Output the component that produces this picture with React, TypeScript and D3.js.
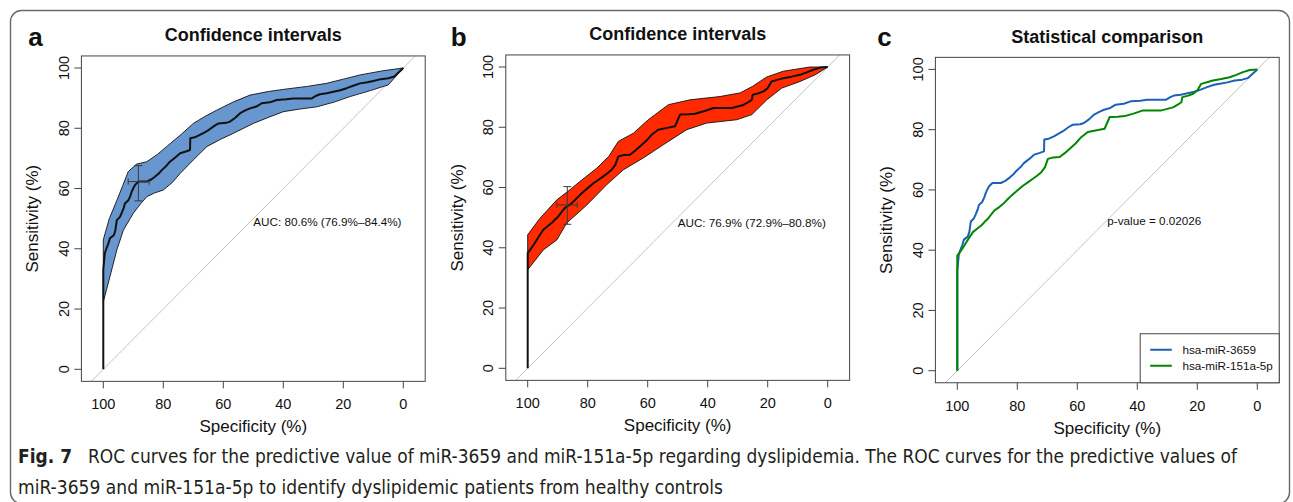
import React from 'react'
import * as d3 from 'd3'

// [specificity, sensitivity] in %
type Pt = [number, number]

const tickValues = [0, 20, 40, 60, 80, 100]

const roc3659: Pt[] = [
  [100, 0], [100, 33], [99.5, 38.5], [99, 40], [98.3, 41.8], [97.8, 43.5], [96.5, 44.5], [96, 46],
  [95.5, 49.5], [94.5, 50.5], [93.9, 51.8], [93.2, 53.5], [92.8, 55], [91.7, 56], [91, 57.5],
  [90.5, 59], [89.8, 60.5], [89.4, 61.2], [88.3, 62.3], [85.5, 62.3], [84, 63], [82.8, 63.9],
  [81.5, 65], [80.5, 66.1], [79, 67.5], [77.8, 68.9], [76, 70.3], [74.4, 71.7], [72.5, 72.3],
  [71.1, 72.8], [71, 76.7], [69.5, 77], [67.8, 77.8], [66.5, 78.5], [64.9, 79.4], [63, 80.8],
  [61.6, 81.6], [59, 81.8], [57.8, 82.2], [56, 83.5], [54.4, 85], [52.5, 86], [51.1, 86.6],
  [49, 87.2], [47.2, 88.3], [44.5, 88.6], [42.2, 89.4], [39, 89.6], [36.7, 89.9], [30.5, 89.9],
  [29, 90.8], [27.8, 91.3], [25.5, 91.6], [23.3, 92.1], [21, 92.6], [18.9, 93.3], [16.5, 94.2],
  [14.4, 94.9], [12, 95.3], [10, 95.7], [7.5, 96.3], [5, 96.6], [3, 97.2], [0, 100]
]
const ci3659Upper: Pt[] = [
  [100, 43], [98, 50], [95.5, 56], [93.5, 61], [91.7, 65.6], [88.9, 68.1], [85.5, 68.9], [82, 71.3],
  [78.9, 73.9], [74, 78], [70, 81.6], [66, 84], [62.2, 86], [56.5, 88.8], [51.1, 91], [45, 92.2],
  [40, 92.9], [32, 93.9], [25.6, 94.9], [20, 96.3], [14.4, 97.7], [6.7, 99.1], [0, 100]
]
const ci3659Lower: Pt[] = [
  [100, 22.4], [97.8, 30.7], [95.5, 39.6], [93.3, 46.2], [90, 51.8], [87.5, 55], [85.5, 57.3],
  [83, 58.5], [80, 59.5], [77, 62], [74.4, 65], [70, 69.5], [65.5, 73.9], [61, 76.3], [56.7, 78.3],
  [50, 81.6], [45, 83.6], [40, 85.5], [35, 86.3], [28.9, 87.1], [23, 88.7], [17.8, 90.5], [11, 92.5],
  [5, 94.4], [0, 100]
]

const roc151a: Pt[] = [
  [100, 0], [100, 38.2], [99.2, 39.3], [98, 41], [97, 42.6], [95.8, 44.5], [94.8, 46], [93.3, 47.2],
  [92, 48.2], [90.8, 49.5], [89.8, 50.4], [88.6, 52], [87.6, 53.2], [86, 54.3], [84.8, 55.3],
  [83.3, 56.8], [82, 58.1], [80, 59.8], [78.1, 61.4], [76.5, 62.5], [74.8, 63.7], [73.3, 64.8],
  [72, 65.9], [70.8, 67.5], [69.8, 70.3], [68, 70.8], [65.9, 70.9], [64.2, 72.2], [62.6, 73.6],
  [60.5, 75.5], [58.7, 77.5], [56.5, 79.2], [53.5, 79.8], [50.9, 80.3], [49.2, 84.2], [46.5, 84.3],
  [44.2, 84.5], [41, 85.4], [38.1, 86.4], [32, 86.4], [30, 86.9], [28.1, 87.4], [26.5, 88.3],
  [25.3, 89.1], [25, 90.8], [23, 91.3], [21.4, 91.9], [20, 93], [18.7, 95.2], [16.5, 95.8],
  [14.8, 96.3], [12, 96.8], [9.2, 97.4], [7, 98.2], [4.8, 99.1], [2.5, 99.8], [0, 100]
]
const ci151aUpper: Pt[] = [
  [100, 44.3], [95.9, 49.8], [90.3, 55.9], [86, 59.2], [82.6, 62], [77, 66.4], [73, 70.3],
  [69.8, 75.3], [64.8, 78], [59.8, 82.5], [53.1, 87.5], [45.9, 89.1], [35.9, 90.2], [29.2, 91.4],
  [25, 93.6], [20.3, 96.7], [14.8, 98.6], [5.9, 100], [0, 100]
]
const ci151aLower: Pt[] = [
  [100, 32.7], [94.8, 39.3], [90.3, 42.6], [87, 48.2], [80.3, 54.2], [73.7, 60.9], [68.1, 65.9],
  [61.5, 69.8], [54.8, 74.2], [47, 79.2], [40.3, 81.4], [30.3, 82.5], [25.3, 84.2], [20.3, 89.1],
  [15.3, 93], [9.2, 95.2], [4, 97.5], [0, 100]
]

// best threshold with its CI: [spec, sens, specLo, specHi, sensLo, sensHi]
const cross3659 = [88.3, 62.3, 84.7, 91.7, 55.9, 67.6]
const cross151a = [86.8, 54.2, 83.5, 90.3, 47.8, 60.3]

const aucLabels = ['AUC: 80.6% (76.9%\u201384.4%)', 'AUC: 76.9% (72.9%\u201380.8%)']
const pValueLabel = 'p-value = 0.02026'
const legendLabels = ['hsa-miR-3659', 'hsa-miR-151a-5p']

const BLUE = '#1c61b6'
const GREEN = '#008600'
const BLUE_BAND = '#6896ce'
const RED_BAND = '#ff2a00'
const FONT = '"Liberation Sans", Arial, Helvetica, sans-serif'

type PanelProps = {
  x100: number
  y0: number
  letter: string
  letterX: number
  title: string
  band?: { upper: Pt[]; lower: Pt[]; fill: string }
  curves: { pts: Pt[]; color: string }[]
  cross?: number[]
  label: string
  labelSens: number
  legend?: boolean
}

function Panel(p: PanelProps) {
  const x = d3.scaleLinear().domain([100, 0]).range([p.x100, p.x100 + 300])
  const y = d3.scaleLinear().domain([0, 100]).range([p.y0, p.y0 - 301.3])
  const left = x(107.3), right = x(-7.3), top = y(104), bottom = y(-4)
  const line = d3.line<Pt>().x(d => x(d[0])).y(d => y(d[1]))
  const cx = (left + right) / 2
  const cy = (top + bottom) / 2

  let bandPath = ''
  if (p.band) {
    bandPath = line([...p.band.upper, ...p.band.lower.slice().reverse()]) + 'Z'
  }

  const legW = 139, legH = 49
  const legL = right - legW, legT = bottom - legH

  return (
    <g fontFamily={FONT}>
      <text x={p.letterX} y={46} fontSize={26} fontWeight="bold" fill="#111">{p.letter}</text>
      <text x={cx} y={top - 14.5} fontSize={18} fontWeight="bold" textAnchor="middle" fill="#111">{p.title}</text>

      <line x1={x(104)} y1={y(-4)} x2={x(-4)} y2={y(104)} stroke="#c4c4c4" strokeWidth={1} />

      {p.band && <path d={bandPath} fill={p.band.fill} stroke="#111" strokeWidth={0.9} />}

      {p.curves.map((c, i) => (
        <path key={i} d={line(c.pts) || ''} fill="none" stroke={c.color} strokeWidth={2} strokeLinejoin="round" />
      ))}

      {p.cross && (
        <g stroke="#3a3a3a" strokeWidth={1}>
          <line x1={x(p.cross[0])} x2={x(p.cross[0])} y1={y(p.cross[4])} y2={y(p.cross[5])} />
          <line x1={x(p.cross[0]) - 4} x2={x(p.cross[0]) + 4} y1={y(p.cross[4])} y2={y(p.cross[4])} />
          <line x1={x(p.cross[0]) - 4} x2={x(p.cross[0]) + 4} y1={y(p.cross[5])} y2={y(p.cross[5])} />
          <line x1={x(p.cross[2])} x2={x(p.cross[3])} y1={y(p.cross[1])} y2={y(p.cross[1])} />
          <line x1={x(p.cross[2])} x2={x(p.cross[2])} y1={y(p.cross[1]) - 3} y2={y(p.cross[1]) + 3} />
          <line x1={x(p.cross[3])} x2={x(p.cross[3])} y1={y(p.cross[1]) - 3} y2={y(p.cross[1]) + 3} />
        </g>
      )}

      <text x={x(50)} y={y(p.labelSens)} fontSize={11.7} fill="#111">{p.label}</text>

      <rect x={left} y={top} width={right - left} height={bottom - top} fill="none" stroke="#444" strokeWidth={1} />

      {tickValues.map(v => (
        <g key={'x' + v}>
          <line x1={x(v)} x2={x(v)} y1={bottom} y2={bottom + 7} stroke="#444" />
          <text x={x(v)} y={bottom + 28} fontSize={14.5} textAnchor="middle" fill="#111">{v}</text>
        </g>
      ))}
      {tickValues.map(v => (
        <g key={'y' + v}>
          <line x1={left} x2={left - 7} y1={y(v)} y2={y(v)} stroke="#444" />
          <text transform={`translate(${left - 12.7},${y(v)}) rotate(-90)`} fontSize={14.5} textAnchor="middle" fill="#111">{v}</text>
        </g>
      ))}
      <text x={cx} y={bottom + 51} fontSize={17} textAnchor="middle" fill="#111">Specificity (%)</text>
      <text transform={`translate(${left - 43},${(y(0) + y(100)) / 2}) rotate(-90)`} fontSize={17} textAnchor="middle" fill="#111">Sensitivity (%)</text>

      {p.legend && (
        <g>
          <rect x={legL} y={legT} width={legW} height={legH} fill="white" stroke="#444" strokeWidth={1} />
          {legendLabels.map((lab, i) => (
            <g key={lab}>
              <line x1={legL + 10} x2={legL + 31.6} y1={legT + 16 + i * 16} y2={legT + 16 + i * 16}
                stroke={i === 0 ? BLUE : GREEN} strokeWidth={2} />
              <text x={legL + 42.3} y={legT + 20 + i * 16} fontSize={11.7} fill="#111">{lab}</text>
            </g>
          ))}
        </g>
      )}
    </g>
  )
}

export default function App() {
  const capFont = '"Liberation Sans Narrow", "DejaVu Sans Condensed", "Open Sans", sans-serif'
  return (
    <svg width={1293} height={502} style={{ position: 'absolute', left: 0, top: 0, background: 'white' }}>
      <rect x={10.5} y={10.5} width={1279} height={493} rx={11} fill="white" stroke="#6a6a6a" strokeWidth={1.4} />

      <Panel x100={103.3} y0={369.3} letter="a" letterX={28.3} title="Confidence intervals"
        band={{ upper: ci3659Upper, lower: ci3659Lower, fill: BLUE_BAND }}
        curves={[{ pts: roc3659, color: '#111' }]} cross={cross3659}
        label={aucLabels[0]} labelSens={47.4} />

      <Panel x100={527.7} y0={368.3} letter="b" letterX={450.7} title="Confidence intervals"
        band={{ upper: ci151aUpper, lower: ci151aLower, fill: RED_BAND }}
        curves={[{ pts: roc151a, color: '#111' }]} cross={cross151a}
        label={aucLabels[1]} labelSens={46.9} />

      <Panel x100={957.3} y0={370.7} letter="c" letterX={877.3} title="Statistical comparison"
        curves={[{ pts: roc3659, color: BLUE }, { pts: roc151a, color: GREEN }]}
        label={pValueLabel} labelSens={48.4} legend />

      <g fill="#231f20" fontSize={19} fontFamily={capFont}>
        <text x={18} y={463} fontWeight="bold" textLength={54} lengthAdjust="spacingAndGlyphs">Fig. 7</text>
        <text x={88} y={463} textLength={1149} lengthAdjust="spacingAndGlyphs">
          ROC curves for the predictive value of miR-3659 and miR-151a-5p regarding dyslipidemia. The ROC curves for the predictive values of
        </text>
        <text x={18} y={494} textLength={705} lengthAdjust="spacingAndGlyphs">
          miR-3659 and miR-151a-5p to identify dyslipidemic patients from healthy controls
        </text>
      </g>
    </svg>
  )
}
